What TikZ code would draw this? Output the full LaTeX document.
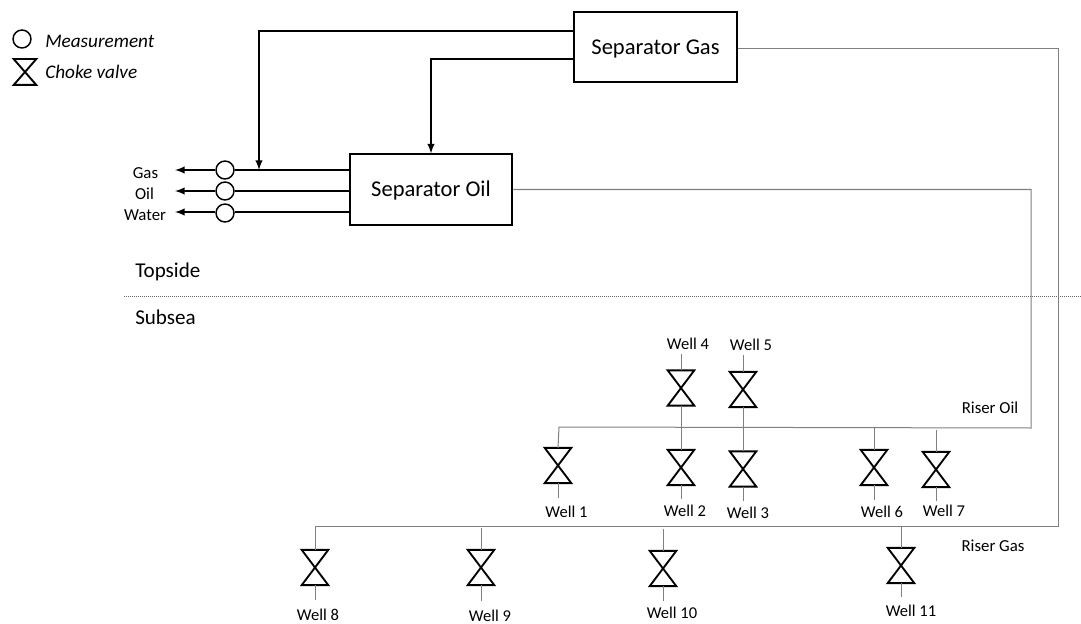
\documentclass[tikz,border=0pt]{standalone}
\usepackage{fontspec}
\setmainfont{Carlito}
\usepackage{tikz}
\usetikzlibrary{arrows}
\usetikzlibrary{positioning}

\begin{document}
\begin{tikzpicture}[x=0.75pt,y=-0.75pt,>=latex,line join=miter]
      \tikzstyle{heavy} = [draw=black, line width=1.5pt]
      \tikzstyle{pipe} = [draw=black!50, line width=0.75pt]
      \tikzstyle{separator} = [draw=black, line width=1.5pt, minimum width=122pt, minimum height=52.5pt, inner sep=0pt, text height=14pt, text depth=2.8pt, font=\fontsize{16.9}{20}\selectfont]
      \tikzstyle{meter} = [circle, draw=black, fill=white, line width=1.1pt, minimum size=13.5pt, inner sep=0pt]
      \tikzstyle{valve} = [minimum width=19.5pt, minimum height=26pt, inner sep=0pt,
         append after command={\pgfextra{\draw[black, line width=1.4pt] (\tikzlastnode.north west) -- (\tikzlastnode.north east) -- (\tikzlastnode.south west) -- (\tikzlastnode.south east) -- cycle;}}]
      \tikzstyle{well label} = [inner sep=0pt, font=\fontsize{12.4}{14}\selectfont]
      \tikzstyle{stream label} = [inner sep=0pt, font=\fontsize{12.6}{14}\selectfont]
      \tikzstyle{side label} = [inner sep=0pt, anchor=west, font=\fontsize{15.8}{18}\selectfont]
      \tikzstyle{legend label} = [inner sep=0pt, anchor=west, font=\fontsize{14.4}{16}\selectfont\itshape]
      \useasboundingbox (0,0) rectangle (1081,624);
      %legend
      \node[meter] (legendmeter) at (22,39) {};
      \node[valve, minimum width=16.5pt, minimum height=19pt] (legendvalve) at (25,72) {};
      \node[legend label] (legendmeterlabel) at (45,41) {Measurement};
      \node[legend label] (legendvalvelabel) at (45,72) {Choke valve};
      %separators
      \node[separator] (sepgas) at (655.5,47) {Separator Gas};
      \node[separator] (sepoil) at (431,189.5) {Separator Oil};
      %outlets
      \node[meter] (metergas) at (225,170) {};
      \node[meter] (meteroil) at (225,191) {};
      \node[meter] (meterwater) at (225,213) {};
      \node[stream label] (labelgas) at (145.5,173) {Gas};
      \node[stream label] (labeloil) at (144.5,194) {Oil};
      \node[stream label] (labelwater) at (145,215) {Water};
      \coordinate (endgas) at (175,170);
      \coordinate (endoil) at (175,191);
      \coordinate (endwater) at (175,212);
      \coordinate (startgas) at (sepoil.west |- metergas);
      \coordinate (startoil) at (sepoil.west |- meteroil);
      \coordinate (startwater) at (sepoil.west |- endwater);
      \coordinate (returngas) at (259,170);
      %sea level
      \coordinate (sealeft) at (124,296);
      \coordinate (searight) at (1081,296);
      \node[side label] (topside) at (135,272) {Topside};
      \node[side label] (subsea) at (135,317) {Subsea};
      %risers
      \coordinate (oilend) at (559,427);
      \coordinate (gasend) at (315,526);
      \node[stream label] (riseroil) at (990,408) {Riser Oil};
      \node[stream label] (risergas) at (993,546) {Riser Gas};
      %valves
      \node[valve] (valve1) at (558,465.5) {};
      \node[valve] (valve2) at (681,467.5) {};
      \node[valve] (valve3) at (743,469) {};
      \node[valve] (valve4) at (681,388) {};
      \node[valve] (valve5) at (743,389.5) {};
      \node[valve] (valve6) at (874,467.5) {};
      \node[valve] (valve7) at (936,469.5) {};
      \node[valve] (valve8) at (315,567.5) {};
      \node[valve] (valve9) at (481,567.5) {};
      \node[valve] (valve10) at (663,568.5) {};
      \node[valve] (valve11) at (901,565.5) {};
      %well labels
      \node[well label] (well1) at (566.5,512) {Well 1};
      \node[well label] (well2) at (685,511) {Well 2};
      \node[well label] (well3) at (748,513) {Well 3};
      \node[well label] (well4) at (688,344) {Well 4};
      \node[well label] (well5) at (751,345) {Well 5};
      \node[well label] (well6) at (882,512) {Well 6};
      \node[well label] (well7) at (944,511) {Well 7};
      \node[well label] (well8) at (318,615) {Well 8};
      \node[well label] (well9) at (490,616) {Well 9};
      \node[well label] (well10) at (672,613) {Well 10};
      \node[well label] (well11) at (911,611) {Well 11};
      %stem ends
      \coordinate (stem1) at (558,498);
      \coordinate (stem2) at (681,499);
      \coordinate (stem3) at (743,501);
      \coordinate (stem4) at (681,354);
      \coordinate (stem5) at (743,355);
      \coordinate (stem6) at (874,500);
      \coordinate (stem7) at (936,501);
      \coordinate (stem8) at (315,600);
      \coordinate (stem9) at (481,601);
      \coordinate (stem10) at (663,601);
      \coordinate (stem11) at (901,597);
      \coordinate (tap6) at (874,428);
      \coordinate (tap7) at (936,430);
      \coordinate (tap9) at (481,528);
      \coordinate (tap10) at (663,529);
      \coordinate (tap11) at (901,526);

      %lines
      \draw [heavy, ->] (sepgas.west |- 0,31) -| (returngas);
      \draw [heavy, ->] (sepgas.west |- 0,59) -| (sepoil.north);
      \draw [heavy] (startgas) -- (metergas);
      \draw [heavy] (startoil) -- (meteroil);
      \draw [heavy] (startwater) -- (meterwater.east |- endwater);
      \draw [heavy, ->] (metergas) -- (endgas);
      \draw [heavy, ->] (meteroil) -- (endoil);
      \draw [heavy, ->] (meterwater.west |- endwater) -- (endwater);
      \draw [black!60, line width=0.5pt, densely dotted] (sealeft) -- (searight);
      \draw [pipe] (sepoil.east) -- (1031,189.5) -- (1031,428) -- (oilend) -- (valve1.north);
      \draw [pipe] (sepgas.east |- 0,49) -- (1058,49) -- (1058,526) -- (gasend) -- (valve8.north);
      %stems
      \draw [pipe] (valve1.south) -- (stem1);
      \draw [pipe] (valve2.south) -- (stem2);
      \draw [pipe] (valve3.south) -- (stem3);
      \draw [pipe] (valve4.north) -- (stem4);
      \draw [pipe] (valve5.north) -- (stem5);
      \draw [pipe] (valve6.south) -- (stem6);
      \draw [pipe] (valve7.south) -- (stem7);
      \draw [pipe] (valve8.south) -- (stem8);
      \draw [pipe] (valve9.south) -- (stem9);
      \draw [pipe] (valve10.south) -- (stem10);
      \draw [pipe] (valve11.south) -- (stem11);
      \draw [pipe] (valve4.south) -- (valve2.north);
      \draw [pipe] (valve5.south) -- (valve3.north);
      \draw [pipe] (valve6.north) -- (tap6);
      \draw [pipe] (valve7.north) -- (tap7);
      \draw [pipe] (valve9.north) -- (tap9);
      \draw [pipe] (valve10.north) -- (tap10);
      \draw [pipe] (valve11.north) -- (tap11);
\end{tikzpicture}
\end{document}
